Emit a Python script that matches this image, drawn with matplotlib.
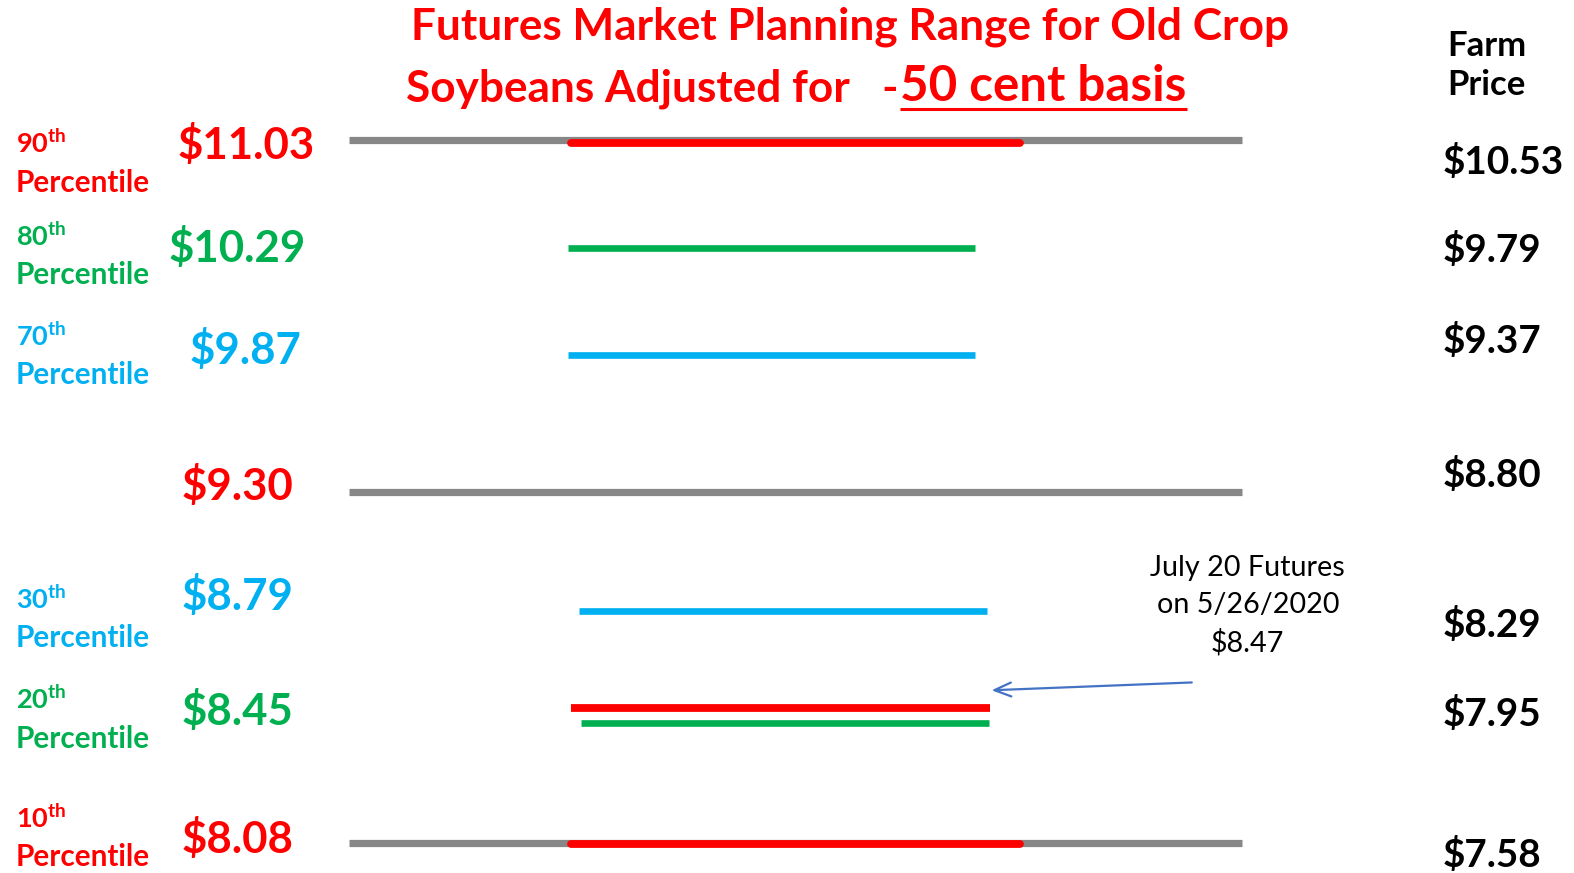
import matplotlib.pyplot as plt

plt.rcParams['font.family'] = ['Lato', 'DejaVu Sans']
plt.rcParams['mathtext.fontset'] = 'custom'
plt.rcParams['mathtext.rm'] = 'Lato:bold'
plt.rcParams['mathtext.it'] = 'Lato:bold'
plt.rcParams['mathtext.bf'] = 'Lato:bold'

RED = '#FF0000'
GREEN = '#00B050'
BLUE = '#00B0F0'
GRAY = '#878787'
ARROW = '#4472C4'

# planning range levels (futures) and the matching farm price
percentiles = [90, 80, 70, None, 30, 20, 10]
futures = [11.03, 10.29, 9.87, 9.30, 8.79, 8.45, 8.08]
farm_price = [10.53, 9.79, 9.37, 8.80, 8.29, 7.95, 7.58]
basis_cents = -50
july_futures = 8.47
quote_date = '5/26/2020'
row_colors = [RED, GREEN, BLUE, RED, BLUE, GREEN, RED]

# layout on a 1568 x 870 slide grid (y grows downward)
W, H = 1568, 870
line_y = [140, 247, 354, 490, 609, 721, 840]
price_y = [145, 247, 349, 484, 594, 709, 836]
price_x = [245, 236, 245, 237, 237, 237, 237]
farm_y = [161, 249, 340, 473, 623, 712, 852]
pct_y = [143, 235, 335, None, 597, 697, 815]
span = [(565, 1020), (566, 971), (566, 971), None,
        (577, 983), (579, 985), (565, 1020)]
full_span = (348, 1237)
futures_span = (569, 986)
futures_y = 706

fig = plt.figure(figsize=(15.74, 8.73), dpi=100)
ax = fig.add_axes([0, 0, 1, 1])
ax.set_xlim(0, W)
ax.set_ylim(H, 0)
ax.axis('off')

# range lines
for i, pct in enumerate(percentiles):
    y = line_y[i]
    if pct in (90, 10) or pct is None:
        ax.plot(full_span, [y, y], color=GRAY, lw=5.2, solid_capstyle='butt', zorder=2)
    if span[i] is not None:
        x0, x1 = span[i]
        if pct in (90, 10):
            dy = 3 if pct == 90 else 1
            ax.plot([x0 + 4, x1 - 4], [y + dy, y + dy], color=row_colors[i], lw=5.6,
                    solid_capstyle='round', zorder=3)
        else:
            ax.plot([x0, x1], [y, y], color=row_colors[i], lw=4.8,
                    solid_capstyle='butt', zorder=3)

# current July futures
ax.plot(futures_span, [futures_y, futures_y], color=RED, lw=5.6,
        solid_capstyle='butt', zorder=3)
ax.annotate('', xy=(985, 688), xytext=(1190, 680),
            arrowprops=dict(arrowstyle='->,head_length=1.2,head_width=0.5',
                            color=ARROW, lw=1.6))
ax.text(1243, 604, f'July 20 Futures\non {quote_date}\n${july_futures:.2f}',
        ha='center', va='center', fontsize=20.7, color='black',
        linespacing=1.5)

# left-hand labels
for i, pct in enumerate(percentiles):
    c = row_colors[i]
    ax.text(price_x[i], price_y[i], f'${futures[i]:.2f}', ha='center', va='center',
            fontsize=31.5, fontweight='bold', color=c)
    if pct is None:
        continue
    ax.text(16, pct_y[i], f'{pct}' + r'$^{\mathrm{th}}$', ha='left', va='center',
            fontsize=19.5, fontweight='bold', color=c)
    ax.text(16, pct_y[i] + 39, 'Percentile', ha='left', va='center',
            fontsize=21.4, fontweight='bold', color=c)

# farm price column
ax.text(1442, 65, 'Farm\nPrice', ha='left', va='center', fontsize=25,
        fontweight='bold', color='black', linespacing=1.27)
for i, fp in enumerate(farm_price):
    ax.text(1437, farm_y[i], f'${fp:.2f}', ha='left', va='center',
            fontsize=27.8, fontweight='bold', color='black')

# title
ax.text(847, 27, 'Futures Market Planning Range for Old Crop', ha='center',
        va='center', fontsize=31.8, fontweight='bold', color=RED)
ax.text(895, 88, 'Soybeans Adjusted for   -', ha='right', va='center',
        fontsize=31.8, fontweight='bold', color=RED)
basis_txt = ax.text(897, 86, f'{abs(basis_cents)} cent basis', ha='left', va='center',
                    fontsize=35.5, fontweight='bold', color=RED)

fig.canvas.draw()
bb = basis_txt.get_window_extent().transformed(ax.transData.inverted())
ax.plot([bb.x0, bb.x1], [109, 109], color=RED, lw=2.2, solid_capstyle='butt')

fig.savefig('out.png', dpi=100, facecolor='white')
